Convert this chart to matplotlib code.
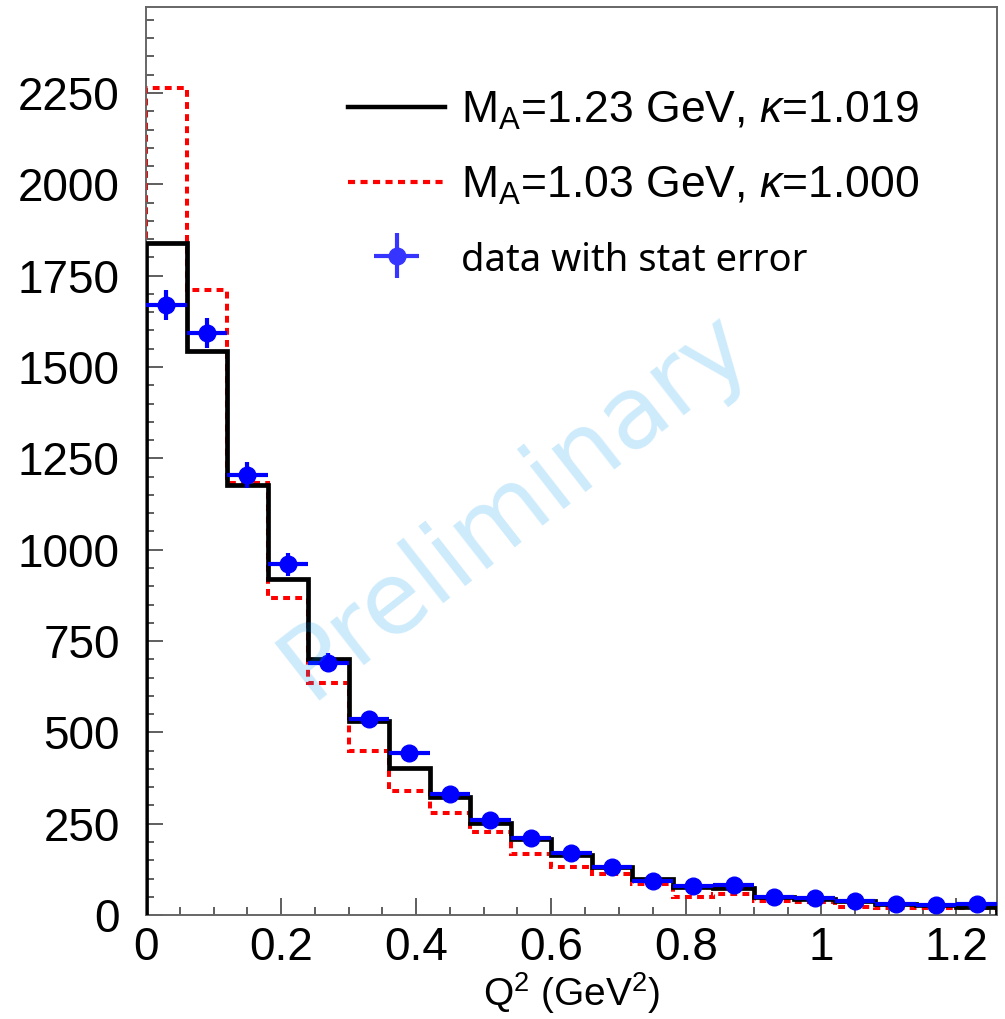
import matplotlib
matplotlib.use('Agg')
import matplotlib.pyplot as plt
import numpy as np
from matplotlib.ticker import MultipleLocator, FuncFormatter
from matplotlib.lines import Line2D

# Q^2 bin edges (GeV^2), width 0.06
edges = [0.0, 0.06, 0.12, 0.18, 0.24, 0.30, 0.36, 0.42, 0.48, 0.54, 0.60,
         0.66, 0.72, 0.78, 0.84, 0.90, 0.96, 1.02, 1.08, 1.14, 1.20, 1.26]
centers = [0.03, 0.09, 0.15, 0.21, 0.27, 0.33, 0.39, 0.45, 0.51, 0.57, 0.63,
           0.69, 0.75, 0.81, 0.87, 0.93, 0.99, 1.05, 1.11, 1.17, 1.23]

# MC, M_A = 1.23 GeV, kappa = 1.019
mc_123 = [1840, 1545, 1176, 919, 700, 532, 402, 323, 252, 208, 164,
          131, 99, 77, 74, 50, 44, 39, 30, 28, 23]
# MC, M_A = 1.03 GeV, kappa = 1.000
mc_103 = [2263, 1711, 1182, 868, 635, 449, 340, 280, 227, 167, 131,
          112, 85, 50, 57, 38, 35, 22, 19, 19, 19]
# data with stat error
data = [1670, 1593, 1204, 960, 690, 536, 443, 331, 260, 212, 170,
        131, 93, 79, 82, 49, 46, 38, 30, 27, 30]
data_err = [41, 40, 35, 31, 26, 23, 21, 18, 16, 15, 13,
            11, 10, 9, 9, 7, 7, 6, 5, 5, 5]

label_font = 'Liberation Sans'

plt.rcParams['mathtext.fontset'] = 'custom'
plt.rcParams['mathtext.rm'] = label_font
plt.rcParams['mathtext.it'] = label_font + ':italic'

fig = plt.figure(figsize=(10.05, 10.19), dpi=100)
ax = fig.add_axes([0.1453, 0.102, 0.8467, 0.891])

ax.stairs(mc_103, edges, baseline=0, color='red', lw=2.9,
          linestyle=(0, (1.7, 1.3)), zorder=2)
ax.stairs(mc_123, edges, baseline=0, color='black', lw=3.4, zorder=3)
ax.errorbar(centers, data, xerr=0.03, yerr=data_err, fmt='o', color='blue',
            ms=12, elinewidth=3, capsize=0, zorder=4)

ax.set_xlim(0, 1.26)
ax.set_ylim(0, 2485)

ax.xaxis.set_major_locator(MultipleLocator(0.2))
ax.xaxis.set_minor_locator(MultipleLocator(0.05))
ax.yaxis.set_major_locator(MultipleLocator(250))
ax.yaxis.set_minor_locator(MultipleLocator(50))
ax.xaxis.set_major_formatter(FuncFormatter(lambda v, p: '%g' % round(v, 2)))

ax.tick_params(which='both', direction='in', top=False, right=False,
               color='#333333', width=1.1)
ax.tick_params(which='major', length=12)
ax.tick_params(which='minor', length=6)
ax.tick_params(axis='y', pad=19)
ax.tick_params(axis='x', pad=8)
for t in ax.get_xticklabels() + ax.get_yticklabels():
    t.set_fontfamily(label_font)
    t.set_fontsize(33)

for s in ax.spines.values():
    s.set_color('#666666')
    s.set_linewidth(1.4)

ax.set_xlabel(r'Q$^{2}$ (GeV$^{2}$)', fontfamily=label_font, fontsize=28,
              labelpad=0)

handles = [
    Line2D([], [], color='black', lw=3.2),
    Line2D([], [], color='red', lw=3.0, linestyle=(0, (1.7, 1.3))),
    ax.errorbar([], [], xerr=[], yerr=[], fmt='o', color='#3535ff', ms=12,
                elinewidth=3, capsize=0),
]
labels = [r'M$_{\mathrm{A}}$=1.23 GeV, $\kappa$=1.019',
          r'M$_{\mathrm{A}}$=1.03 GeV, $\kappa$=1.000',
          'data with stat error']
leg = ax.legend(handles, labels, loc='upper left',
                bbox_to_anchor=(0.19, 0.953), frameon=False,
                prop={'family': label_font, 'size': 32},
                handlelength=2.2, handletextpad=0.35, labelspacing=0.74)
leg.get_texts()[2].set_fontfamily('Noto Sans')
leg.get_texts()[2].set_fontsize(27.5)

fig.text(0.512, 0.504, 'Preliminary', fontfamily='DejaVu Sans', fontsize=72,
         color=(0.02, 0.6, 0.94), alpha=0.2, rotation=38,
         rotation_mode='anchor', ha='center', va='center', zorder=10)

fig.savefig('out.png', dpi=100)
